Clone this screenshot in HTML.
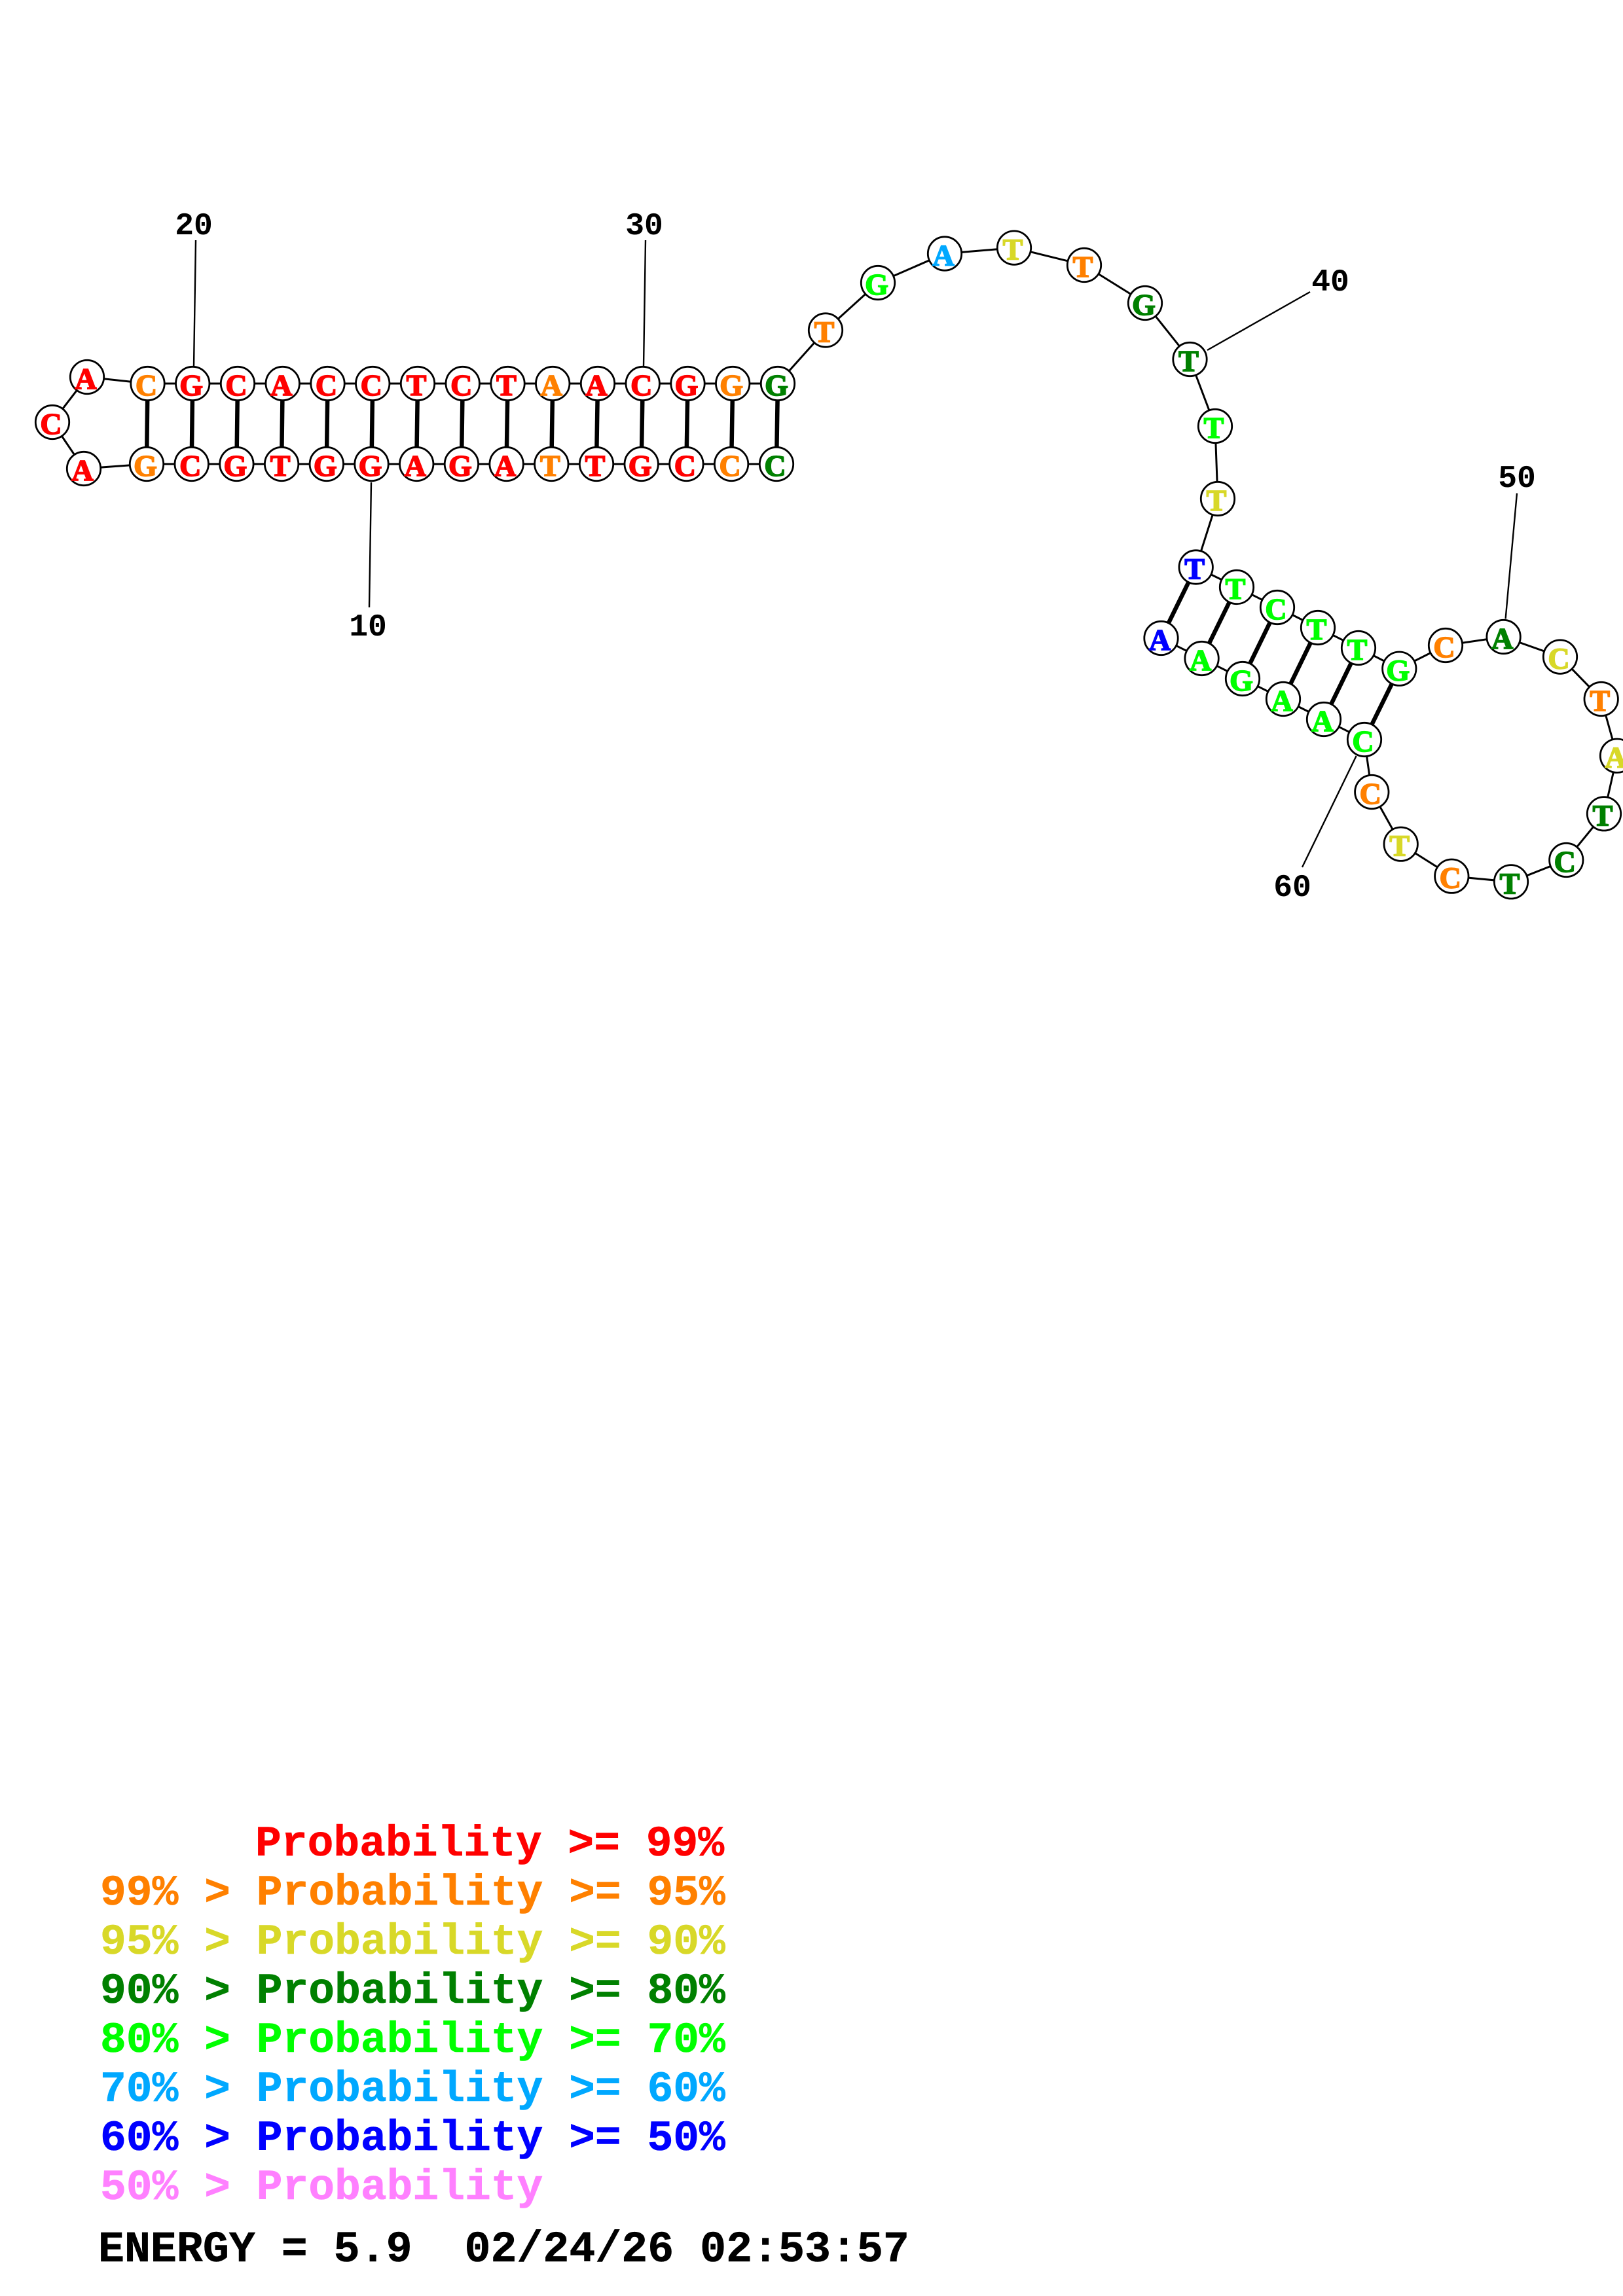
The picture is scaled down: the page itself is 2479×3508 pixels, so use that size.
<!DOCTYPE html>
<html><head><meta charset="utf-8"><style>
html,body{margin:0;padding:0;background:#fff}
svg{display:block}
.b{fill:none;stroke:#000;stroke-width:3;stroke-linejoin:round}
.p line{stroke:#000;stroke-width:6.5}
.l line{stroke:#000;stroke-width:2.4}
.n circle{fill:#fff;stroke:#000;stroke-width:2.8}
.n text{font-family:"Liberation Serif",serif;font-weight:bold;font-size:46px;text-anchor:middle;stroke-width:1.7}
.r{fill:#f00;stroke:#f00}.o{fill:#ff8000;stroke:#ff8000}.y{fill:#d8d828;stroke:#d8d828}.d{fill:#008000;stroke:#008000}.g{fill:#0f0;stroke:#0f0}.s{fill:#00a8ff;stroke:#00a8ff}.u{fill:#00f;stroke:#00f}
.t text{font-family:"Liberation Mono",monospace;font-weight:bold;font-size:48px;text-anchor:middle;fill:#000}
.e text{font-family:"Liberation Mono",monospace;font-weight:bold;font-size:66.3px;white-space:pre;stroke-width:.6}
</style></head><body>
<svg width="2479" height="3508" viewBox="0 0 2479 3508" xmlns="http://www.w3.org/2000/svg">
<rect width="2479" height="3508" fill="#fff"/>
<polyline class="b" points="1186,709 1117.1,709 1048.4,709 979.7,709 911,709 842.3,709 773.6,709 704.9,709 636.2,709 567.5,709 498.8,709 430.1,709 361.4,709 292.7,709 224,709 128,716 80,645 133,576 225.5,586 294.2,586 363,586 431.7,586 500.5,586 569.2,586 638,586 706.7,586 775.5,586 844.2,586 913,586 981.7,586 1050.5,586 1119.2,586 1188,586 1261,504.5 1341,432 1443,387.5 1549,378.6 1656,405 1749,463 1817.5,549 1856,651 1860,762 1826.7,866.5 1889,897 1951,928 2013,959 2075,990 2137.3,1021.7 2208,986 2296.6,973 2383,1003.6 2445.7,1068 2470,1154.7 2450,1243.3 2392.3,1314 2308,1347.3 2217.3,1338.7 2139.7,1289.7 2095.3,1210 2084,1130 2022,1099 1960,1068 1898,1037 1835.6,1006 1773.5,975"/>
<g class="p">
<line x1="225.5" y1="586" x2="224" y2="709"/><line x1="294.2" y1="586" x2="292.7" y2="709"/><line x1="363" y1="586" x2="361.4" y2="709"/><line x1="431.7" y1="586" x2="430.1" y2="709"/><line x1="500.5" y1="586" x2="498.8" y2="709"/><line x1="569.2" y1="586" x2="567.5" y2="709"/><line x1="638" y1="586" x2="636.2" y2="709"/><line x1="706.7" y1="586" x2="704.9" y2="709"/><line x1="775.5" y1="586" x2="773.6" y2="709"/><line x1="844.2" y1="586" x2="842.3" y2="709"/><line x1="913" y1="586" x2="911" y2="709"/><line x1="981.7" y1="586" x2="979.7" y2="709"/><line x1="1050.5" y1="586" x2="1048.4" y2="709"/><line x1="1119.2" y1="586" x2="1117.1" y2="709"/><line x1="1188" y1="586" x2="1186" y2="709"/>
<line x1="1826.7" y1="866.5" x2="1773.5" y2="975"/><line x1="1889" y1="897" x2="1835.6" y2="1006"/><line x1="1951" y1="928" x2="1898" y2="1037"/><line x1="2013" y1="959" x2="1960" y2="1068"/><line x1="2075" y1="990" x2="2022" y2="1099"/><line x1="2137.3" y1="1021.7" x2="2084" y2="1130"/>
</g>
<g class="l">
<line x1="567" y1="737" x2="564" y2="928"/><line x1="299" y1="367" x2="296" y2="560"/><line x1="986" y1="367" x2="983" y2="560"/><line x1="2001" y1="446" x2="1844" y2="535"/><line x1="2317" y1="753.6" x2="2299.6" y2="945.5"/><line x1="1989" y1="1325" x2="2071.6" y2="1155"/>
</g>
<g class="t">
<text x="562" y="971">10</text><text x="296" y="358">20</text><text x="984" y="358">30</text><text x="2032" y="444">40</text><text x="2317" y="744">50</text><text x="1974" y="1369">60</text>
</g>
<g class="n">
<circle cx="133" cy="576" r="25.7"/><text class="r" x="131" y="594">A</text>
<circle cx="80" cy="645" r="25.7"/><text class="r" x="78" y="663">C</text>
<circle cx="128" cy="716" r="25.7"/><text class="r" x="126" y="734">A</text>
<circle cx="225.5" cy="586" r="25.7"/><text class="o" x="223.5" y="604">C</text>
<circle cx="294.2" cy="586" r="25.7"/><text class="r" x="292.2" y="604">G</text>
<circle cx="363" cy="586" r="25.7"/><text class="r" x="361" y="604">C</text>
<circle cx="431.7" cy="586" r="25.7"/><text class="r" x="429.7" y="604">A</text>
<circle cx="500.5" cy="586" r="25.7"/><text class="r" x="498.5" y="604">C</text>
<circle cx="569.2" cy="586" r="25.7"/><text class="r" x="567.2" y="604">C</text>
<circle cx="638" cy="586" r="25.7"/><text class="r" x="636" y="604">T</text>
<circle cx="706.7" cy="586" r="25.7"/><text class="r" x="704.7" y="604">C</text>
<circle cx="775.5" cy="586" r="25.7"/><text class="r" x="773.5" y="604">T</text>
<circle cx="844.2" cy="586" r="25.7"/><text class="o" x="842.2" y="604">A</text>
<circle cx="913" cy="586" r="25.7"/><text class="r" x="911" y="604">A</text>
<circle cx="981.7" cy="586" r="25.7"/><text class="r" x="979.7" y="604">C</text>
<circle cx="1050.5" cy="586" r="25.7"/><text class="r" x="1048.5" y="604">G</text>
<circle cx="1119.2" cy="586" r="25.7"/><text class="o" x="1117.2" y="604">G</text>
<circle cx="1188" cy="586" r="25.7"/><text class="d" x="1186" y="604">G</text>
<circle cx="224" cy="709" r="25.7"/><text class="o" x="222" y="727">G</text>
<circle cx="292.7" cy="709" r="25.7"/><text class="r" x="290.7" y="727">C</text>
<circle cx="361.4" cy="709" r="25.7"/><text class="r" x="359.4" y="727">G</text>
<circle cx="430.1" cy="709" r="25.7"/><text class="r" x="428.1" y="727">T</text>
<circle cx="498.8" cy="709" r="25.7"/><text class="r" x="496.8" y="727">G</text>
<circle cx="567.5" cy="709" r="25.7"/><text class="r" x="565.5" y="727">G</text>
<circle cx="636.2" cy="709" r="25.7"/><text class="r" x="634.2" y="727">A</text>
<circle cx="704.9" cy="709" r="25.7"/><text class="r" x="702.9" y="727">G</text>
<circle cx="773.6" cy="709" r="25.7"/><text class="r" x="771.6" y="727">A</text>
<circle cx="842.3" cy="709" r="25.7"/><text class="o" x="840.3" y="727">T</text>
<circle cx="911" cy="709" r="25.7"/><text class="r" x="909" y="727">T</text>
<circle cx="979.7" cy="709" r="25.7"/><text class="r" x="977.7" y="727">G</text>
<circle cx="1048.4" cy="709" r="25.7"/><text class="r" x="1046.4" y="727">C</text>
<circle cx="1117.1" cy="709" r="25.7"/><text class="o" x="1115.1" y="727">C</text>
<circle cx="1186" cy="709" r="25.7"/><text class="d" x="1184" y="727">C</text>
<circle cx="1261" cy="504.5" r="25.7"/><text class="o" x="1259" y="522.5">T</text>
<circle cx="1341" cy="432" r="25.7"/><text class="g" x="1339" y="450">G</text>
<circle cx="1443" cy="387.5" r="25.7"/><text class="s" x="1441" y="405.5">A</text>
<circle cx="1549" cy="378.6" r="25.7"/><text class="y" x="1547" y="396.6">T</text>
<circle cx="1656" cy="405" r="25.7"/><text class="o" x="1654" y="423">T</text>
<circle cx="1749" cy="463" r="25.7"/><text class="d" x="1747" y="481">G</text>
<circle cx="1817.5" cy="549" r="25.7"/><text class="d" x="1815.5" y="567">T</text>
<circle cx="1856" cy="651" r="25.7"/><text class="g" x="1854" y="669">T</text>
<circle cx="1860" cy="762" r="25.7"/><text class="y" x="1858" y="780">T</text>
<circle cx="1826.7" cy="866.5" r="25.7"/><text class="u" x="1824.7" y="884.5">T</text>
<circle cx="1889" cy="897" r="25.7"/><text class="g" x="1887" y="915">T</text>
<circle cx="1951" cy="928" r="25.7"/><text class="g" x="1949" y="946">C</text>
<circle cx="2013" cy="959" r="25.7"/><text class="g" x="2011" y="977">T</text>
<circle cx="2075" cy="990" r="25.7"/><text class="g" x="2073" y="1008">T</text>
<circle cx="2137.3" cy="1021.7" r="25.7"/><text class="g" x="2135.3" y="1039.7">G</text>
<circle cx="2208" cy="986" r="25.7"/><text class="o" x="2206" y="1004">C</text>
<circle cx="2296.6" cy="973" r="25.7"/><text class="d" x="2294.6" y="991">A</text>
<circle cx="2383" cy="1003.6" r="25.7"/><text class="y" x="2381" y="1021.6">C</text>
<circle cx="2445.7" cy="1068" r="25.7"/><text class="o" x="2443.7" y="1086">T</text>
<circle cx="2470" cy="1154.7" r="25.7"/><text class="y" x="2468" y="1172.7">A</text>
<circle cx="2450" cy="1243.3" r="25.7"/><text class="d" x="2448" y="1261.3">T</text>
<circle cx="2392.3" cy="1314" r="25.7"/><text class="d" x="2390.3" y="1332">C</text>
<circle cx="2308" cy="1347.3" r="25.7"/><text class="d" x="2306" y="1365.3">T</text>
<circle cx="2217.3" cy="1338.7" r="25.7"/><text class="o" x="2215.3" y="1356.7">C</text>
<circle cx="2139.7" cy="1289.7" r="25.7"/><text class="y" x="2137.7" y="1307.7">T</text>
<circle cx="2095.3" cy="1210" r="25.7"/><text class="o" x="2093.3" y="1228">C</text>
<circle cx="2084" cy="1130" r="25.7"/><text class="g" x="2082" y="1148">C</text>
<circle cx="2022" cy="1099" r="25.7"/><text class="g" x="2020" y="1117">A</text>
<circle cx="1960" cy="1068" r="25.7"/><text class="g" x="1958" y="1086">A</text>
<circle cx="1898" cy="1037" r="25.7"/><text class="g" x="1896" y="1055">G</text>
<circle cx="1835.6" cy="1006" r="25.7"/><text class="g" x="1833.6" y="1024">A</text>
<circle cx="1773.5" cy="975" r="25.7"/><text class="u" x="1771.5" y="993">A</text>
</g>
<g class="e" xml:space="preserve">
<text class="r" x="390" y="2835">Probability &gt;= 99%</text>
<text class="o" x="153" y="2910">99% &gt; Probability &gt;= 95%</text>
<text class="y" x="153" y="2985">95% &gt; Probability &gt;= 90%</text>
<text class="d" x="153" y="3060">90% &gt; Probability &gt;= 80%</text>
<text class="g" x="153" y="3135">80% &gt; Probability &gt;= 70%</text>
<text class="s" x="153" y="3210">70% &gt; Probability &gt;= 60%</text>
<text class="u" x="153" y="3285">60% &gt; Probability &gt;= 50%</text>
<text x="153" y="3360" style="fill:#ff80ff;stroke:#ff80ff">50% &gt; Probability</text>
<text x="150" y="3455" style="fill:#000;stroke:#000;font-size:66.6px">ENERGY = 5.9  02/24/26 02:53:57</text>
</g>
</svg>
</body></html>
